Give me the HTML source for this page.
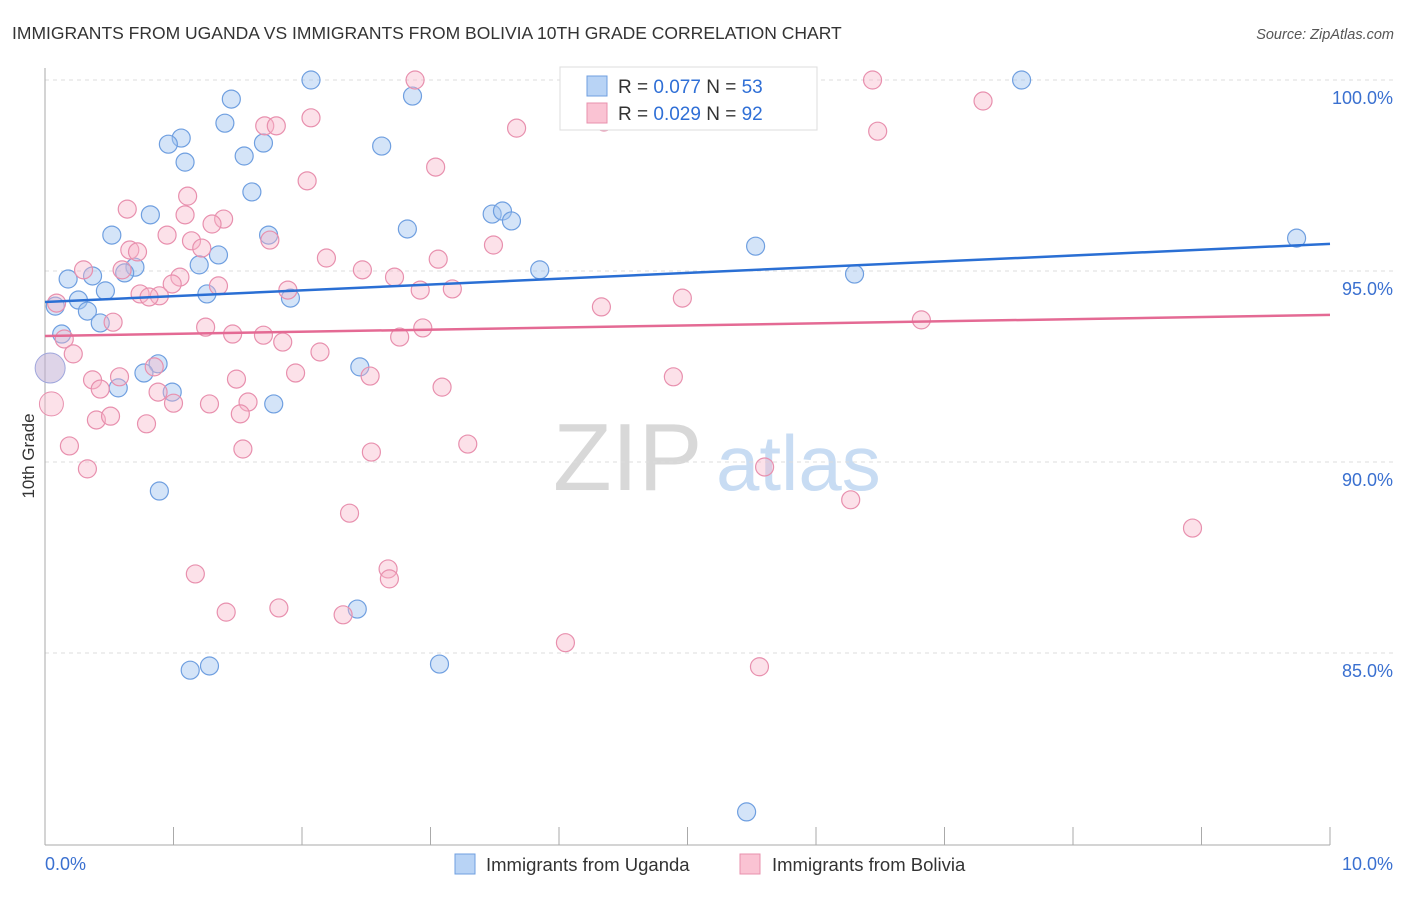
<!DOCTYPE html>
<html><head><meta charset="utf-8"><style>
body{margin:0;background:#fff;font-family:"Liberation Sans",sans-serif;}
svg text{font-family:"Liberation Sans",sans-serif;}
</style></head><body>
<svg id="chart" width="1406" height="892" xmlns="http://www.w3.org/2000/svg">
<text x="12" y="39" font-size="17.5" fill="#333">IMMIGRANTS FROM UGANDA VS IMMIGRANTS FROM BOLIVIA 10TH GRADE CORRELATION CHART</text>
<text x="1394" y="39" font-size="14.5" fill="#555" font-style="italic" text-anchor="end">Source: ZipAtlas.com</text>
<g>
<text x="553" y="490" font-size="96" fill="#d8d8d8" font-family="Liberation Serif, serif">ZIP</text>
<text x="716" y="490" font-size="78" fill="#c8dcf3">atlas</text>
</g>
<g id="grid"></g>
<g id="axes"></g>
<g id="pts"></g>
<g id="trend"></g>
<text transform="translate(34,456) rotate(-90)" font-size="17" fill="#333" text-anchor="middle">10th Grade</text>
<g>
<rect x="560" y="67" width="257" height="63" fill="#fff" stroke="#ddd"/>
<rect x="587" y="76" width="20" height="20" fill="#b8d3f5" stroke="#6f9fe0"/>
<rect x="587" y="103" width="20" height="20" fill="#fac3d3" stroke="#e890ae"/>
<text x="618" y="93" font-size="19" fill="#333">R = <tspan fill="#2f6fd6">0.077</tspan>   N = <tspan fill="#2f6fd6">53</tspan></text>
<text x="618" y="120" font-size="19" fill="#333">R = <tspan fill="#2f6fd6">0.029</tspan>   N = <tspan fill="#2f6fd6">92</tspan></text>
</g>
<g>
<rect x="455" y="854" width="20" height="20" fill="#b8d3f5" stroke="#6f9fe0"/>
<text x="486" y="871" font-size="18.5" fill="#333">Immigrants from Uganda</text>
<rect x="740" y="854" width="20" height="20" fill="#fac3d3" stroke="#e890ae"/>
<text x="772" y="871" font-size="18.5" fill="#333">Immigrants from Bolivia</text>
</g>
</svg>
<script>
const yTicks=[100,95,90,85];
const yTickLabels=["100.0%","95.0%","90.0%","85.0%"];
const xTicks=[0,1,2,3,4,5,6,7,8,9,10];
const ugandaX=[2.07,7.60,1.45,2.86,1.40,1.06,0.96,1.70,2.62,1.55,1.09,1.61,0.82,3.48,3.56,3.63,2.82,0.52,1.74,5.53,9.74,1.35,1.20,0.70,0.62,0.37,3.85,6.30,0.18,0.47,1.91,0.26,0.08,1.26,0.33,0.43,0.13,0.88,0.77,2.45,0.57,0.99,1.78,0.89,2.43,1.13,1.28,3.07,5.46];
const ugandaY=[100.0,100.0,99.50,99.58,98.87,98.48,98.32,98.35,98.27,98.01,97.85,97.07,96.47,96.49,96.57,96.31,96.10,95.94,95.94,95.65,95.86,95.42,95.16,95.10,94.95,94.87,95.03,94.92,94.79,94.48,94.29,94.24,94.08,94.40,93.95,93.64,93.35,92.57,92.33,92.49,91.94,91.83,91.52,89.24,86.15,84.55,84.66,84.71,80.84];
const boliviaX=[2.88,4.10,6.44,7.30,2.07,1.71,1.80,3.67,6.48,4.35,3.04,2.04,1.11,0.64,1.09,1.39,1.30,0.95,1.14,1.75,1.22,0.66,0.72,3.49,2.19,3.06,0.30,0.60,2.47,2.72,1.05,0.99,1.35,1.89,2.92,3.17,0.74,0.89,0.81,0.09,4.33,4.96,6.82,0.53,1.25,2.94,1.46,1.70,2.76,1.85,0.15,0.22,2.14,0.85,1.95,0.37,0.58,1.49,2.53,4.89,0.43,0.88,3.09,1.58,1.28,1.00,1.52,0.40,0.51,0.79,3.29,0.19,1.54,2.54,5.60,0.33,2.37,6.27,8.93,2.67,2.68,1.17,1.41,1.82,2.32,4.05,5.56];
const boliviaY=[100.0,100.0,100.0,99.45,99.01,98.80,98.80,98.74,98.66,98.90,97.72,97.36,96.96,96.62,96.47,96.36,96.23,95.94,95.79,95.81,95.60,95.55,95.50,95.68,95.34,95.31,95.03,95.03,95.03,94.84,94.84,94.66,94.61,94.50,94.50,94.53,94.40,94.35,94.32,94.16,94.06,94.29,93.72,93.66,93.53,93.51,93.35,93.32,93.27,93.14,93.22,92.83,92.88,92.49,92.33,92.15,92.23,92.17,92.25,92.23,91.91,91.83,91.96,91.57,91.52,91.54,91.26,91.10,91.20,91.0,90.47,90.42,90.34,90.26,89.87,89.82,88.66,89.01,88.27,87.20,86.94,87.07,86.07,86.18,86.0,85.27,84.64];
const bigX=[0.04,0.05];
const bigY=[92.46,91.52];
const ugandaTrend=[94.19,95.71];
const boliviaTrend=[93.30,93.85];
const NS="http://www.w3.org/2000/svg";
const sx=v=>45+v*128.5;
const sy=v=>80+(100-v)*38.2;
function mk(tag,attrs,parent){const e=document.createElementNS(NS,tag);for(const k in attrs)e.setAttribute(k,attrs[k]);document.getElementById(parent).appendChild(e);return e;}
yTicks.forEach((t,i)=>{
 const l=mk('line',{x1:45,x2:1393,y1:sy(t),y2:sy(t),stroke:'#ddd','stroke-dasharray':'4,4'},'grid');
 
 
 const tx=mk('text',{x:1393,y:sy(t)+24,'font-size':18,fill:'#3a70d0','text-anchor':'end'},'grid');
 tx.textContent=yTickLabels[i];
 
 
});
const ya=mk('line',{x1:45,x2:45,y1:68,y2:845,stroke:'#aaa'},'axes');


const xa=mk('line',{x1:45,x2:1330,y1:845,y2:845,stroke:'#aaa'},'axes');


xTicks.forEach(t=>{
 const l=mk('line',{x1:sx(t),x2:sx(t),y1:827,y2:845,stroke:'#aaa'},'axes');
 
 
});
const x0=mk('text',{x:45,y:870,'font-size':18,fill:'#3a70d0'},'axes');x0.textContent='0.0%';


const x1=mk('text',{x:1393,y:870,'font-size':18,fill:'#3a70d0','text-anchor':'end'},'axes');x1.textContent='10.0%';


function pts(X,Y,fill,stroke,name,r){X.forEach((x,i)=>{
 const c=mk('circle',{cx:sx(x),cy:sy(Y[i]),r:r,fill:fill,stroke:stroke,'stroke-width':1.2},'pts');
 
 
});}
pts(ugandaX,ugandaY,'rgba(160,196,240,0.45)','#6f9fe0','uganda-point',9);
pts(boliviaX,boliviaY,'rgba(248,180,200,0.4)','#e890ae','bolivia-point',9);
const bg=mk('circle',{cx:sx(bigX[0]),cy:sy(bigY[0]),r:15,fill:'rgba(190,170,210,0.5)',stroke:'#9fa6dc'},'pts');


const bp=mk('circle',{cx:sx(bigX[1]),cy:sy(bigY[1]),r:12,fill:'rgba(248,180,200,0.4)',stroke:'#e890ae'},'pts');


const tu=mk('line',{x1:sx(0),x2:sx(10),y1:sy(ugandaTrend[0]),y2:sy(ugandaTrend[1]),stroke:'#2a6fd4','stroke-width':2.5},'trend');


const tb=mk('line',{x1:sx(0),x2:sx(10),y1:sy(boliviaTrend[0]),y2:sy(boliviaTrend[1]),stroke:'#e46a94','stroke-width':2.5},'trend');


</script>
</body></html>
